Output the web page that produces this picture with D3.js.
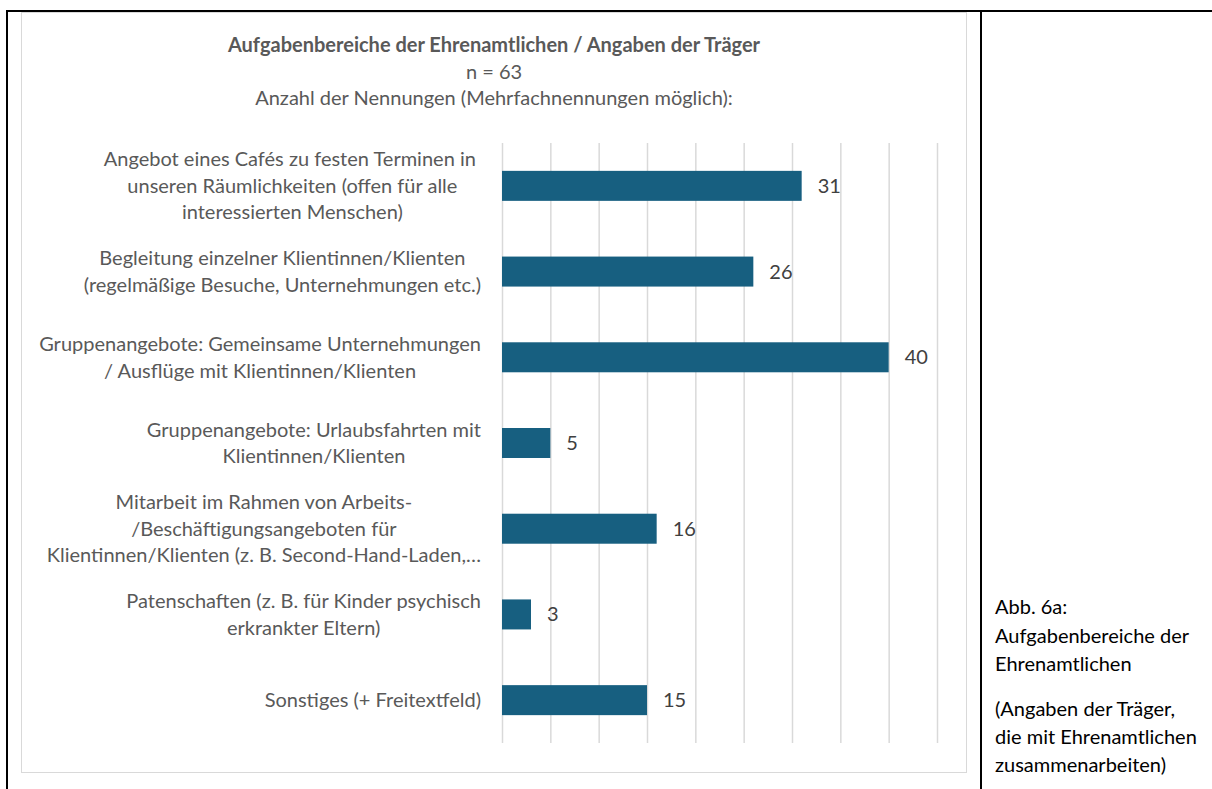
<!DOCTYPE html>
<html><head><meta charset="utf-8">
<script src="https://cdn.jsdelivr.net/npm/d3@7"></script>
<style>
html,body{margin:0;padding:0;background:#fff;}
svg{display:block;}
text{font-family:Lato, "Noto Sans", sans-serif;}
</style></head>
<body>
<svg id="c" width="1212" height="789"></svg>
<script>
const categories = [
  ["Angebot eines Cafés zu festen Terminen in ", "unseren Räumlichkeiten (offen für alle", "interessierten Menschen)"],
  ["Begleitung einzelner Klientinnen/Klienten", "(regelmäßige Besuche, Unternehmungen etc.)"],
  ["Gruppenangebote: Gemeinsame Unternehmungen", "/ Ausflüge mit Klientinnen/Klienten"],
  ["Gruppenangebote: Urlaubsfahrten mit", "Klientinnen/Klienten"],
  ["Mitarbeit im Rahmen von Arbeits-", "/Beschäftigungsangeboten für", "Klientinnen/Klienten (z. B. Second-Hand-Laden,…"],
  ["Patenschaften (z. B. für Kinder psychisch", "erkrankter Eltern)"],
  ["Sonstiges (+ Freitextfeld)"]
];
const values = [31, 26, 40, 5, 16, 3, 15];
const xTicks = [0, 5, 10, 15, 20, 25, 30, 35, 40, 45];
const titleLines = ["Aufgabenbereiche der Ehrenamtlichen / Angaben der Träger", "n = 63", "Anzahl der Nennungen (Mehrfachnennungen möglich):"];
const captionLines = ["Abb. 6a:", "Aufgabenbereiche der", "Ehrenamtlichen", "", "(Angaben der Träger,", "die mit Ehrenamtlichen", "zusammenarbeiten)"];

const svg = d3.select("#c");
const FS = 20;

// table frame
svg.append("line").attr("x1",7).attr("x2",1212).attr("y1",11).attr("y2",11).attr("stroke","#000").attr("stroke-width",2);
svg.append("line").attr("x1",7).attr("x2",7).attr("y1",10).attr("y2",789).attr("stroke","#000").attr("stroke-width",2);
svg.append("line").attr("x1",981).attr("x2",981).attr("y1",10).attr("y2",789).attr("stroke","#000").attr("stroke-width",2);

// chart area border
svg.append("rect").attr("x",21.5).attr("y",12.5).attr("width",945).attr("height",760)
  .attr("fill","#fff").attr("stroke","#d9d9d9").attr("stroke-width",1);

const x = d3.scaleLinear().domain([0,45]).range([502,937]);
const y = d3.scaleBand().domain(d3.range(categories.length)).range([143,743]).paddingInner(0.65).paddingOuter(0.325);

// gridlines
const xAxis = d3.axisBottom(x).tickValues(xTicks).tickSize(-(743-143)).tickFormat("");
const gx = svg.append("g").attr("transform","translate(0,743)").call(xAxis);
gx.select(".domain").remove();
gx.selectAll(".tick line").attr("stroke","#d9d9d9").attr("stroke-width",1.5);

// bars
svg.selectAll("rect.bar").data(values).join("rect").attr("class","bar")
  .attr("x",x(0)).attr("y",(d,i)=>y(i)).attr("width",d=>x(d)-x(0)).attr("height",y.bandwidth())
  .attr("fill","#175f80");

// value labels
svg.selectAll("text.val").data(values).join("text").attr("class","val")
  .attr("x",d=>x(d)+16).attr("y",(d,i)=>y(i)+y.bandwidth()/2).attr("dy","0.35em")
  .attr("font-size",FS).attr("fill","#404040").text(d=>d);

// category labels
const LH = 26.5;
const labelRight = 481;
categories.forEach((lines,i)=>{
  const cy = y(i)+y.bandwidth()/2;
  const g = svg.append("g");
  const t = g.append("text").attr("font-size",FS).attr("fill","#595959").attr("text-anchor","middle").style("white-space","pre");
  lines.forEach((ln,j)=>{
    t.append("tspan").attr("x",0).attr("y",cy + (j-(lines.length-1)/2)*LH).attr("dy","0.35em").text(ln);
  });
  let maxW = 0;
  t.selectAll("tspan").each(function(){ maxW = Math.max(maxW, this.getComputedTextLength()); });
  t.selectAll("tspan").attr("x", labelRight - maxW/2);
});

// title
svg.append("text").attr("x",494).attr("y",45).attr("dy","0.35em").attr("text-anchor","middle")
  .attr("font-size",FS).attr("font-weight","bold").attr("fill","#595959").text(titleLines[0]);
svg.append("text").attr("x",494).attr("y",72).attr("dy","0.35em").attr("text-anchor","middle")
  .attr("font-size",FS).attr("fill","#595959").text(titleLines[1]);
svg.append("text").attr("x",494).attr("y",98).attr("dy","0.35em").attr("text-anchor","middle")
  .attr("font-size",FS).attr("fill","#595959").text(titleLines[2]);

// caption
const capY = [607, 636, 664, null, 709, 737, 765];
captionLines.forEach((ln,i)=>{
  if(!ln) return;
  svg.append("text").attr("x",995).attr("y",capY[i]).attr("dy","0.35em")
    .attr("font-size",FS).attr("fill","#000").text(ln);
});
</script>
</body></html>
